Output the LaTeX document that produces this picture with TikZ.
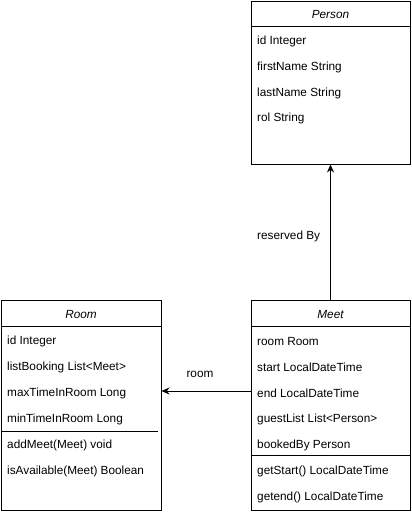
\documentclass[tikz,border=0pt]{standalone}
\usepackage{fontspec}
\setmainfont{Liberation Sans}
\usetikzlibrary{arrows.meta}
\begin{document}
\begin{tikzpicture}[x=1pt,y=-1pt,
  classbox/.style={draw,line width=1pt,inner sep=0pt},
  member/.style={anchor=west,font=\fontsize{11.8}{13}\selectfont,inner sep=0pt},
  title/.style={font=\fontsize{11.8}{13}\selectfont\itshape,inner sep=0pt},
  lbl/.style={font=\fontsize{11.8}{13}\selectfont,inner sep=0pt},
  conn/.style={line width=1pt,-{Stealth[length=8pt,width=7pt]}}]
\useasboundingbox (0,0) rectangle (412,512);
% Person
\node[classbox,minimum width=159pt,minimum height=163pt] (person) at (330.5,82.5) {};
\draw[line width=1pt] (person.west |- 0,26) -- (person.east |- 0,26);
\node[title] (pt) at (330.5,14.5) {Person};
\node[member] (p1) at (257,41.5) {id Integer};
\node[member] (p2) at (257,67.5) {firstName String};
\node[member] (p3) at (257,93) {lastName String};
\node[member] (p4) at (257,118.5) {rol String};
% Meet
\node[classbox,minimum width=159pt,minimum height=210pt] (meet) at (330.5,405) {};
\draw[line width=1pt] (meet.west |- 0,326) -- (meet.east |- 0,326);
\draw[line width=1pt] (meet.west |- 0,455) -- (meet.east |- 0,455);
\node[title] (mt) at (330.5,314.5) {Meet};
\node[member] (m1) at (257,341.5) {room Room};
\node[member] (m2) at (257,367.5) {start LocalDateTime};
\node[member] (m3) at (257,393.5) {end LocalDateTime};
\node[member] (m4) at (257,419.5) {guestList List<Person>};
\node[member] (m5) at (257,445) {bookedBy Person};
\node[member] (m6) at (257,471) {getStart() LocalDateTime};
\node[member] (m7) at (257,497) {getend() LocalDateTime};
% Room
\node[classbox,minimum width=160pt,minimum height=210pt] (room) at (81,405) {};
\draw[line width=1pt] (room.west |- 0,326) -- (room.east |- 0,326);
\draw[line width=1pt] (room.west |- 0,431) -- (158,431);
\node[title] (rt) at (81,314.5) {Room};
\node[member] (r1) at (7,341.5) {id Integer};
\node[member] (r2) at (7,367.5) {listBooking List<Meet>};
\node[member] (r3) at (7,393.5) {maxTimeInRoom Long};
\node[member] (r4) at (7,419.5) {minTimeInRoom Long};
\node[member] (r5) at (7,445) {addMeet(Meet) void};
\node[member] (r6) at (7,471) {isAvailable(Meet) Boolean};
% connectors
\draw[conn] (meet.north) -- (person.south);
\node[lbl,anchor=west] (l1) at (257,236.5) {reserved By};
\draw[conn] (meet.west |- 0,391) -- (room.east |- 0,391);
\node[lbl] (l2) at (200,374.5) {room};
\end{tikzpicture}
\end{document}
